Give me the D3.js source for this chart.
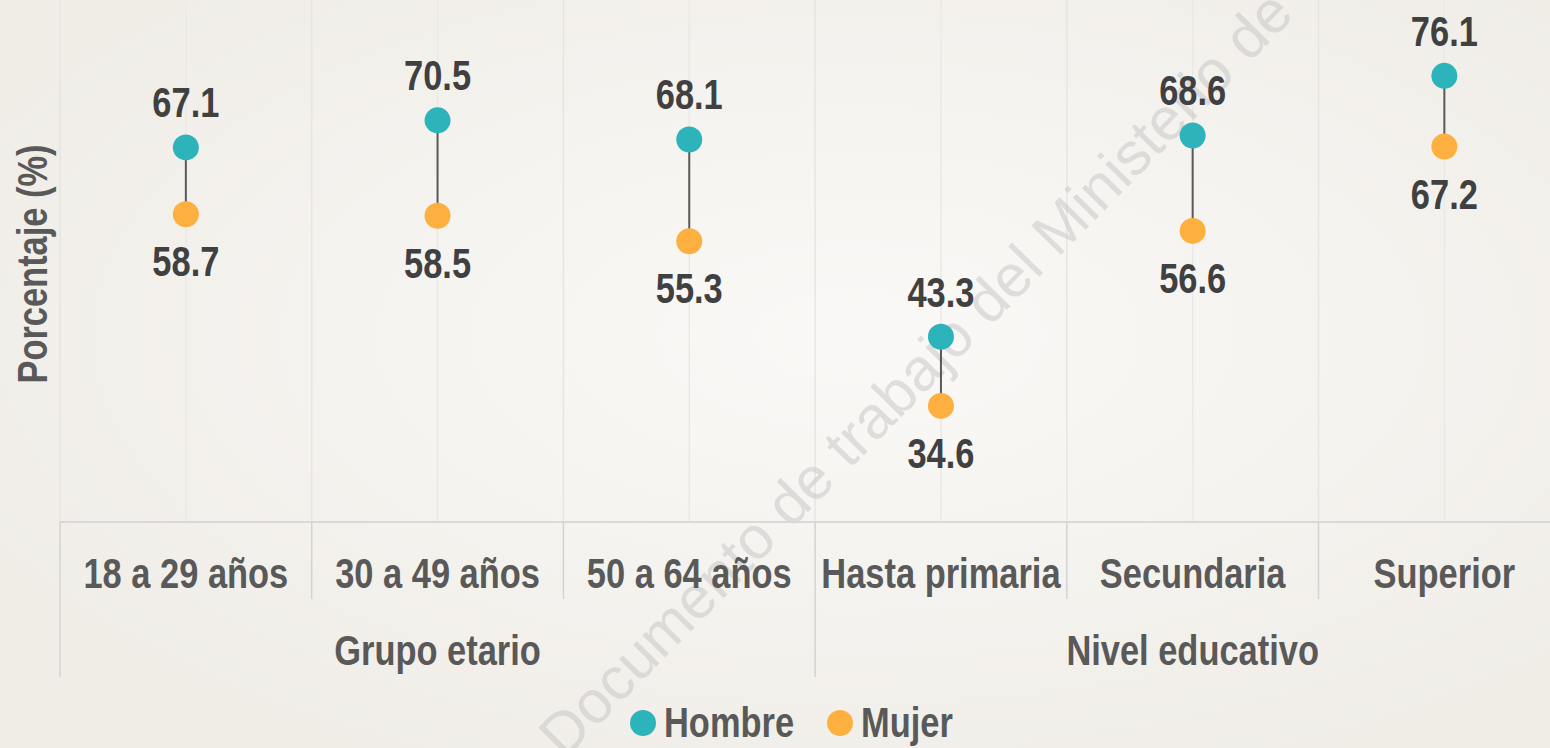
<!DOCTYPE html>
<html>
<head>
<meta charset="utf-8">
<script src="https://cdn.jsdelivr.net/npm/d3@7"></script>
<style>
    body { margin: 0; overflow: hidden; }
    .container { width: 1550px; height: 748px; }
</style>
</head>
<body>
<div class="container"></div>
<script>
// datos
const categorias = ["18 a 29 años", "30 a 49 años", "50 a 64 años", "Hasta primaria", "Secundaria", "Superior"]
const hombre = [67.1, 70.5, 68.1, 43.3, 68.6, 76.1]
const mujer = [58.7, 58.5, 55.3, 34.6, 56.6, 67.2]
const grupos = ["Grupo etario", "Nivel educativo"]
const grupoInicio = [0, 3]
const grupoFin = [2, 5]
const series = ["Hombre", "Mujer"]
const colores = ["#2db3ba", "#fdb03f"]

const dimensiones = {
    WIDTH: 1550,
    HEIGHT: 748,
}
const margin = { left: 60, top: 44.8, axis: 522 }
// no hay Arial Narrow: se comprime la Liberation Sans en horizontal
const fuente = "'Liberation Sans', Arial, sans-serif"
const angosto = 0.82

const svg = d3.select(".container")
                .append("svg")
                .attr("width", dimensiones.WIDTH)
                .attr("height", dimensiones.HEIGHT)

// fondo
const defs = svg.append("defs")
const grad = defs.append("radialGradient")
                .attr("id", "fondo")
                .attr("cx", "55%")
                .attr("cy", "45%")
                .attr("r", "65%")
grad.append("stop").attr("offset", "0%").attr("stop-color", "#faf9f7")
grad.append("stop").attr("offset", "100%").attr("stop-color", "#f0ede7")

svg.append("rect")
    .attr("width", dimensiones.WIDTH)
    .attr("height", dimensiones.HEIGHT)
    .attr("fill", "url(#fondo)")

const x = d3.scaleBand()
            .domain(categorias)
            .range([margin.left, margin.left + 6 * 251.7])
            .padding(0)

const y = d3.scaleLinear()
            .domain([20, 80])
            .range([margin.axis, margin.top])

const bw = x.bandwidth()
const centro = (i) => x(categorias[i]) + bw / 2
const en = (px, py, rot = 0) => `translate(${px} ${py}) rotate(${rot}) scale(${angosto} 1)`

// lineas verticales suaves del area
const guias = svg.append("g").attr("class", "guias")
guias.selectAll("line")
    .data(categorias)
    .join("line")
    .attr("x1", d => x(d))
    .attr("x2", d => x(d))
    .attr("y1", 0)
    .attr("y2", margin.axis)
    .attr("stroke", "#e7e5e1")
    .attr("stroke-width", 1.5)

guias.selectAll(".centro")
    .data(categorias)
    .join("line")
    .attr("class", "centro")
    .attr("x1", d => x(d) + bw / 2)
    .attr("x2", d => x(d) + bw / 2)
    .attr("y1", 0)
    .attr("y2", margin.axis)
    .attr("stroke", "#ebe9e5")
    .attr("stroke-width", 1.5)

// marca de agua
svg.append("text")
    .attr("transform", "translate(930 388) rotate(-45.5)")
    .attr("text-anchor", "middle")
    .style("font-family", fuente)
    .style("font-size", "60px")
    .attr("fill", "#c4c4c4")
    .attr("fill-opacity", 0.5)
    .text("Documento de trabajo del Ministerio de")

// eje x
const eje = svg.append("g").attr("class", "eje")
eje.append("line")
    .attr("x1", margin.left)
    .attr("x2", dimensiones.WIDTH)
    .attr("y1", margin.axis)
    .attr("y2", margin.axis)
    .attr("stroke", "#d9d9d9")
    .attr("stroke-width", 2)

eje.selectAll(".sep")
    .data(categorias)
    .join("line")
    .attr("class", "sep")
    .attr("x1", d => x(d))
    .attr("x2", d => x(d))
    .attr("y1", margin.axis)
    .attr("y2", (_, i) => grupoInicio.includes(i) ? 677 : 599)
    .attr("stroke", "#d3d3d3")
    .attr("stroke-width", 1.5)

eje.selectAll(".cat")
    .data(categorias)
    .join("text")
    .attr("class", "cat")
    .attr("transform", (_, i) => en(centro(i), 588))
    .attr("text-anchor", "middle")
    .style("font-family", fuente)
    .style("font-weight", "bold")
    .style("font-size", "42px")
    .attr("fill", "#595959")
    .text(d => d)

eje.selectAll(".grupo")
    .data(grupos)
    .join("text")
    .attr("class", "grupo")
    .attr("transform", (_, i) => en((x(categorias[grupoInicio[i]]) + x(categorias[grupoFin[i]]) + bw) / 2, 665))
    .attr("text-anchor", "middle")
    .style("font-family", fuente)
    .style("font-weight", "bold")
    .style("font-size", "42px")
    .attr("fill", "#595959")
    .text(d => d)

// titulo eje y
svg.append("text")
    .attr("transform", en(47, 264, -90))
    .attr("text-anchor", "middle")
    .style("font-family", fuente)
    .style("font-weight", "bold")
    .style("font-size", "42px")
    .attr("fill", "#595959")
    .text("Porcentaje (%)")

// pesas
const pesas = svg.append("g").attr("class", "pesas")
pesas.selectAll("line")
    .data(categorias)
    .join("line")
    .attr("x1", (_, i) => centro(i))
    .attr("x2", (_, i) => centro(i))
    .attr("y1", (_, i) => y(hombre[i]))
    .attr("y2", (_, i) => y(mujer[i]))
    .attr("stroke", "#595959")
    .attr("stroke-width", 2)

pesas.selectAll(".h")
    .data(hombre)
    .join("circle")
    .attr("class", "h")
    .attr("cx", (_, i) => centro(i))
    .attr("cy", d => y(d))
    .attr("r", 13)
    .attr("fill", colores[0])

pesas.selectAll(".m")
    .data(mujer)
    .join("circle")
    .attr("class", "m")
    .attr("cx", (_, i) => centro(i))
    .attr("cy", d => y(d))
    .attr("r", 13)
    .attr("fill", colores[1])

pesas.selectAll(".th")
    .data(hombre)
    .join("text")
    .attr("class", "th")
    .attr("transform", (d, i) => en(centro(i), y(d) - 30))
    .attr("text-anchor", "middle")
    .style("font-family", fuente)
    .style("font-weight", "bold")
    .style("font-size", "42px")
    .attr("fill", "#404040")
    .text(d => d.toFixed(1))

pesas.selectAll(".tm")
    .data(mujer)
    .join("text")
    .attr("class", "tm")
    .attr("transform", (d, i) => en(centro(i), y(d) + 62))
    .attr("text-anchor", "middle")
    .style("font-family", fuente)
    .style("font-weight", "bold")
    .style("font-size", "42px")
    .attr("fill", "#404040")
    .text(d => d.toFixed(1))

// leyenda
const leyenda = svg.append("g").attr("class", "leyenda")
const posLeyenda = [643, 840]
leyenda.selectAll("circle")
    .data(series)
    .join("circle")
    .attr("cx", (_, i) => posLeyenda[i])
    .attr("cy", 723)
    .attr("r", 13)
    .attr("fill", (_, i) => colores[i])

leyenda.selectAll("text")
    .data(series)
    .join("text")
    .attr("transform", (_, i) => en(posLeyenda[i] + 21, 737))
    .style("font-family", fuente)
    .style("font-weight", "bold")
    .style("font-size", "42px")
    .attr("fill", "#595959")
    .text(d => d)
</script>
</body>
</html>
